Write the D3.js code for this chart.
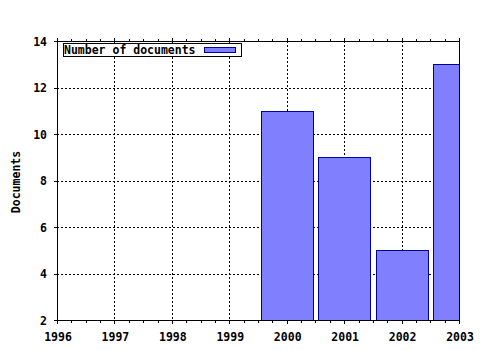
<!DOCTYPE html>
<html><head><meta charset="utf-8">
<script src="https://cdn.jsdelivr.net/npm/d3@7"></script>
<style>body{margin:0;background:#fff}svg{display:block}text{font-family:"DejaVu Sans Mono",monospace;font-weight:bold;font-size:11.5px;fill:#000}</style>
</head><body><svg id="c" width="480" height="350"></svg>
<script>
const years = [1996, 1997, 1998, 1999, 2000, 2001, 2002, 2003];
const documents = [0, 0, 0, 0, 11, 9, 5, 13];
const yTicks = [2, 4, 6, 8, 10, 12, 14];
const seriesName = "Number of documents";
const yTitle = "Documents";

const svg = d3.select("#c");
const L = 57, R = 459, T = 41, B = 320;
const x = d3.scaleLinear().domain([1996, 2003]).range([L, R]);
const y = d3.scaleLinear().domain([2, 14]).range([B, T]);

svg.append("rect").attr("width", 480).attr("height", 350).attr("fill", "#fff");
svg.append("defs").append("clipPath").attr("id", "pc")
  .append("rect").attr("x", L).attr("y", T).attr("width", R - L).attr("height", B - T);

// grid
const g = svg.append("g").attr("stroke", "#000").attr("stroke-dasharray", "2,2").attr("shape-rendering", "crispEdges");
g.selectAll(".gx").data(years.slice(1, -1)).join("line")
  .attr("x1", d => Math.round(x(d)) + 0.5).attr("x2", d => Math.round(x(d)) + 0.5)
  .attr("y1", T).attr("y2", B);
g.selectAll(".gy").data(yTicks.slice(1, -1)).join("line")
  .attr("y1", d => Math.round(y(d)) + 0.5).attr("y2", d => Math.round(y(d)) + 0.5)
  .attr("x1", L).attr("x2", R);

// bars
const bw = (x(1997) - x(1996)) * 0.9;
svg.append("g").attr("clip-path", "url(#pc)").selectAll("rect")
  .data(years.map((yr, i) => ({ yr, v: documents[i] })).filter(d => d.v > 2))
  .join("rect")
  .attr("x", d => Math.round(x(d.yr) - bw / 2) + 0.5)
  .attr("width", Math.round(bw))
  .attr("y", d => Math.round(y(d.v)) + 0.5)
  .attr("height", d => Math.round(B - y(d.v)))
  .attr("fill", "#8080ff").attr("stroke", "#0000a0").attr("stroke-width", 1);

// axes
const ax = svg.append("g").attr("stroke", "#000").attr("shape-rendering", "crispEdges");
ax.append("rect").attr("x", L + 0.5).attr("y", T + 0.5).attr("width", R - L).attr("height", B - T).attr("fill", "none");
const minors = d3.range(1996, 2003.01, 0.25);
ax.selectAll(".mb").data(minors).join("line")
  .attr("x1", d => Math.round(x(d)) + 0.5).attr("x2", d => Math.round(x(d)) + 0.5)
  .attr("y1", B).attr("y2", d => Number.isInteger(d) ? B + 4 : B + 3);
ax.selectAll(".mt").data(minors).join("line")
  .attr("x1", d => Math.round(x(d)) + 0.5).attr("x2", d => Math.round(x(d)) + 0.5)
  .attr("y1", T + 1).attr("y2", d => Number.isInteger(d) ? T - 3 : T - 2);
ax.selectAll(".ty").data(yTicks).join("line")
  .attr("y1", d => Math.round(y(d)) + 0.5).attr("y2", d => Math.round(y(d)) + 0.5)
  .attr("x1", L - 3).attr("x2", L + 1);

// tick labels
svg.append("g").selectAll("text").data(years).join("text")
  .attr("x", d => x(d) + 1).attr("y", 341).attr("text-anchor", "middle").text(d => d);
svg.append("g").selectAll("text").data(yTicks).join("text")
  .attr("x", 47).attr("y", d => y(d) + 4.5).attr("text-anchor", "end").text(d => d);

// y title
svg.append("text").attr("transform", "translate(20,182) rotate(-90)")
  .attr("text-anchor", "middle").text(yTitle);

// legend
svg.append("rect").attr("x", 63.5).attr("y", 43.5).attr("width", 178).attr("height", 13)
  .attr("fill", "#fff").attr("stroke", "#000").attr("shape-rendering", "crispEdges");
svg.append("text").attr("x", 64).attr("y", 54).text(seriesName);
svg.append("rect").attr("x", 204.5).attr("y", 47.5).attr("width", 31).attr("height", 5)
  .attr("fill", "#8080ff").attr("stroke", "#0000a0").attr("shape-rendering", "crispEdges");
</script></body></html>
